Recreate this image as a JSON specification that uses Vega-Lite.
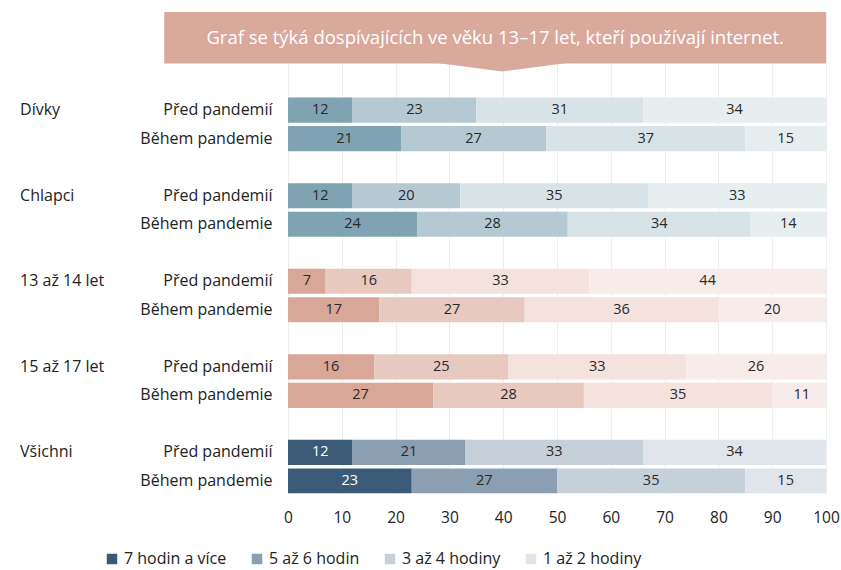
{
  "$schema": "https://vega.github.io/schema/vega-lite/v6.json",
  "padding": {"left": 20, "top": 12, "right": 10, "bottom": 0},
  "width": 538,
  "height": 481.5,
  "config": {"view": {"stroke": null}, "font": "Open Sans"},
  "datasets": {
    "rows": [
      {"group": "Dívky", "period": "Před pandemií", "cat": 1, "value": 12},
      {"group": "Dívky", "period": "Před pandemií", "cat": 2, "value": 23},
      {"group": "Dívky", "period": "Před pandemií", "cat": 3, "value": 31},
      {"group": "Dívky", "period": "Před pandemií", "cat": 4, "value": 34},
      {"group": "Dívky", "period": "Během pandemie", "cat": 1, "value": 21},
      {"group": "Dívky", "period": "Během pandemie", "cat": 2, "value": 27},
      {"group": "Dívky", "period": "Během pandemie", "cat": 3, "value": 37},
      {"group": "Dívky", "period": "Během pandemie", "cat": 4, "value": 15},
      {"group": "Chlapci", "period": "Před pandemií", "cat": 1, "value": 12},
      {"group": "Chlapci", "period": "Před pandemií", "cat": 2, "value": 20},
      {"group": "Chlapci", "period": "Před pandemií", "cat": 3, "value": 35},
      {"group": "Chlapci", "period": "Před pandemií", "cat": 4, "value": 33},
      {"group": "Chlapci", "period": "Během pandemie", "cat": 1, "value": 24},
      {"group": "Chlapci", "period": "Během pandemie", "cat": 2, "value": 28},
      {"group": "Chlapci", "period": "Během pandemie", "cat": 3, "value": 34},
      {"group": "Chlapci", "period": "Během pandemie", "cat": 4, "value": 14},
      {"group": "13 až 14 let", "period": "Před pandemií", "cat": 1, "value": 7},
      {"group": "13 až 14 let", "period": "Před pandemií", "cat": 2, "value": 16},
      {"group": "13 až 14 let", "period": "Před pandemií", "cat": 3, "value": 33},
      {"group": "13 až 14 let", "period": "Před pandemií", "cat": 4, "value": 44},
      {"group": "13 až 14 let", "period": "Během pandemie", "cat": 1, "value": 17},
      {"group": "13 až 14 let", "period": "Během pandemie", "cat": 2, "value": 27},
      {"group": "13 až 14 let", "period": "Během pandemie", "cat": 3, "value": 36},
      {"group": "13 až 14 let", "period": "Během pandemie", "cat": 4, "value": 20},
      {"group": "15 až 17 let", "period": "Před pandemií", "cat": 1, "value": 16},
      {"group": "15 až 17 let", "period": "Před pandemií", "cat": 2, "value": 25},
      {"group": "15 až 17 let", "period": "Před pandemií", "cat": 3, "value": 33},
      {"group": "15 až 17 let", "period": "Před pandemií", "cat": 4, "value": 26},
      {"group": "15 až 17 let", "period": "Během pandemie", "cat": 1, "value": 27},
      {"group": "15 až 17 let", "period": "Během pandemie", "cat": 2, "value": 28},
      {"group": "15 až 17 let", "period": "Během pandemie", "cat": 3, "value": 35},
      {"group": "15 až 17 let", "period": "Během pandemie", "cat": 4, "value": 11},
      {"group": "Všichni", "period": "Před pandemií", "cat": 1, "value": 12},
      {"group": "Všichni", "period": "Před pandemií", "cat": 2, "value": 21},
      {"group": "Všichni", "period": "Před pandemií", "cat": 3, "value": 33},
      {"group": "Všichni", "period": "Před pandemií", "cat": 4, "value": 34},
      {"group": "Všichni", "period": "Během pandemie", "cat": 1, "value": 23},
      {"group": "Všichni", "period": "Během pandemie", "cat": 2, "value": 27},
      {"group": "Všichni", "period": "Během pandemie", "cat": 3, "value": 35},
      {"group": "Všichni", "period": "Během pandemie", "cat": 4, "value": 15}
    ],
    "banner": [
      {"text": "Graf se týká dospívajících ve věku 13–17 let, kteří používají internet."}
    ]
  },
  "resolve": {"scale": {"y": "independent"}},
  "layer": [
    {
      "data": {"name": "rows"},
      "transform": [
        {"calculate": "(datum.group === 'Všichni' ? 'v' : (datum.group === 'Dívky' || datum.group === 'Chlapci') ? 't' : 's') + datum.cat", "as": "key"},
        {"calculate": "datum.group + '|' + datum.period", "as": "row"},
        {"stack": "value", "groupby": ["group", "period"], "sort": [{"field": "cat", "order": "ascending"}], "as": ["v0", "v1"]},
        {"calculate": "(datum.v0 + datum.v1) / 2", "as": "mid"}
      ],
      "encoding": {
        "y": {
          "field": "row",
          "type": "nominal",
          "scale": {
            "domain": ["B0", "B1", "B2",
              "Dívky|Před pandemií", "Dívky|Během pandemie", "S1",
              "Chlapci|Před pandemií", "Chlapci|Během pandemie", "S2",
              "13 až 14 let|Před pandemií", "13 až 14 let|Během pandemie", "S3",
              "15 až 17 let|Před pandemií", "15 až 17 let|Během pandemie", "S4",
              "Všichni|Před pandemií", "Všichni|Během pandemie"],
            "paddingInner": 0.12,
            "paddingOuter": 0
          },
          "axis": {
            "title": null,
            "ticks": false,
            "domain": false,
            "grid": false,
            "labelFontSize": 16,
            "labelColor": "#222",
            "labelPadding": 16,
            "labelExpr": "indexof(datum.label, '|') >= 0 ? split(datum.label, '|')[1] : ''"
          }
        }
      },
      "layer": [
        {
          "mark": {"type": "bar", "clip": true},
          "encoding": {
            "x": {
              "field": "v0",
              "type": "quantitative",
              "scale": {"domain": [0, 100], "nice": false},
              "axis": {"title": null, "values": [0, 10, 20, 30, 40, 50, 60, 70, 80, 90, 100], "grid": true, "gridColor": "#eeeeee", "ticks": false, "domain": false, "labelFontSize": 15.5, "labelColor": "#222", "labelPadding": 17, "labelFlush": false}
            },
            "x2": {"field": "v1"},
            "color": {
              "field": "key",
              "type": "nominal",
              "scale": {
                "domain": ["t1", "t2", "t3", "t4", "s1", "s2", "s3", "s4", "v1", "v2", "v3", "v4"],
                "range": ["#7fa3b2", "#b4c9d1", "#d7e3e7", "#e7eef0", "#d9a797", "#e8c9c0", "#f3e2dd", "#f7ecea", "#3a5a78", "#8a9fb1", "#c5d0d9", "#dfe5eb"]
              },
              "legend": {
                "values": ["v1", "v2", "v3", "v4"],
                "labelExpr": "{'v1': '7 hodin a více', 'v2': '5 až 6 hodin', 'v3': '3 až 4 hodiny', 'v4': '1 až 2 hodiny'}[datum.label]",
                "title": null,
                "orient": "none",
                "legendX": -184,
                "legendY": 539,
                "direction": "horizontal",
                "symbolType": "square",
                "symbolSize": 110,
                "symbolStrokeWidth": 0,
                "labelFontSize": 16,
                "labelColor": "#222",
                "labelOffset": 4,
                "columnPadding": 22
              }
            }
          }
        },
        {
          "mark": {"type": "text", "fontSize": 14.5},
          "encoding": {
            "x": {"field": "mid", "type": "quantitative"},
            "text": {"field": "value"},
            "color": {"condition": {"test": "datum.key === 'v1'", "value": "white"}, "value": "#2a2a2a"}
          }
        },
        {
          "transform": [{"filter": "datum.cat === 1 && datum.period === 'Před pandemií'"}],
          "mark": {"type": "text", "align": "left", "fontSize": 16, "color": "#222"},
          "encoding": {
            "x": {"datum": -49.8, "type": "quantitative"},
            "text": {"field": "group"}
          }
        }
      ]
    },
    {
      "data": {"name": "banner"},
      "layer": [
        {
          "mark": {"type": "rect", "color": "#d9a99b"},
          "encoding": {
            "x": {"datum": -23, "type": "quantitative"},
            "x2": {"datum": 100},
            "y": {"datum": 0, "type": "quantitative", "scale": {"domain": [-83.5, 10], "nice": false, "zero": false}, "axis": null},
            "y2": {"datum": 10}
          }
        },
        {
          "mark": {"type": "point", "shape": "M-1,-0.02L1,-0.02L0,0.11Z", "filled": true, "color": "#d9a99b", "size": 21025, "opacity": 1, "strokeWidth": 0},
          "encoding": {
            "x": {"datum": 39.8, "type": "quantitative"},
            "y": {"datum": 0, "type": "quantitative"}
          }
        },
        {
          "mark": {"type": "text", "color": "white", "fontSize": 18.5},
          "encoding": {
            "x": {"datum": 38.5, "type": "quantitative"},
            "y": {"datum": 5, "type": "quantitative"},
            "text": {"field": "text"}
          }
        }
      ]
    }
  ]
}
